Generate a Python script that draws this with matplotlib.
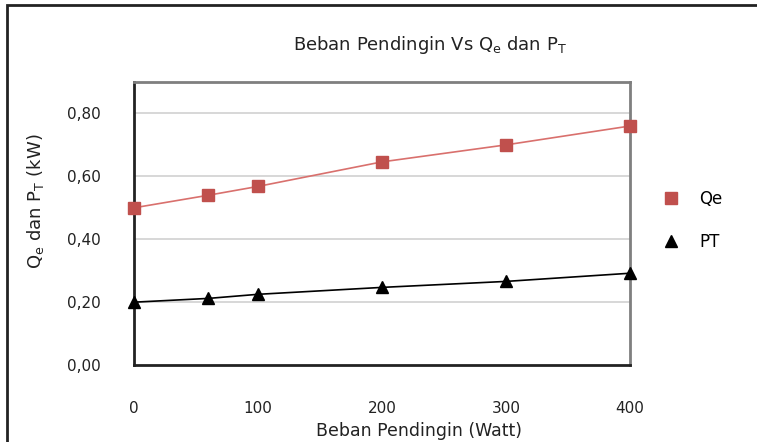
import matplotlib
matplotlib.use("Agg")
import matplotlib.pyplot as plt
from matplotlib.patches import Rectangle
from matplotlib.lines import Line2D

# data
beban = [0, 60, 100, 200, 300, 400]
qe = [0.50, 0.54, 0.568, 0.646, 0.70, 0.76]
pt = [0.200, 0.212, 0.225, 0.247, 0.266, 0.292]
yticks = [0.0, 0.2, 0.4, 0.6, 0.8]
xticks = [0, 100, 200, 300, 400]

plt.rcParams['font.family'] = ['DejaVu Sans']

fig = plt.figure(figsize=(7.57, 4.42), dpi=100)
ax = fig.add_axes([0.177, 0.174, 0.655, 0.6405])

# outer chart frame (open at right/bottom like the cropped original)
fig.patches.append(Rectangle((7 / 757, -0.1), 1.2, 1 - 5.5 / 442 + 0.1,
                             transform=fig.transFigure, fill=False,
                             edgecolor="#222222", lw=2))

for y in yticks[1:]:
    ax.axhline(y, color="#d4d4d4", lw=1.3, zorder=0)

ax.plot(beban, qe, color="#d9706d", lw=1.2, zorder=2)
ax.plot(beban, qe, ls="none", marker="s", ms=8.5, color="#c0504d", zorder=3, clip_on=False)
ax.plot(beban, pt, color="black", lw=1.2, zorder=2)
ax.plot(beban, pt, ls="none", marker="^", ms=8.5, color="black", zorder=3, clip_on=False)

ax.set_xlim(0, 400)
ax.set_ylim(0, 0.9)
ax.set_xticks(xticks)
ax.set_yticks(yticks)
ax.set_yticklabels([("%.2f" % v).replace(".", ",") for v in yticks])
ax.tick_params(axis="both", length=0, labelsize=11, colors="#222222")
ax.tick_params(axis="x", pad=26)
ax.tick_params(axis="y", pad=24)

ax.spines["left"].set_color("#222222")
ax.spines["bottom"].set_color("#222222")
ax.spines["left"].set_linewidth(2)
ax.spines["bottom"].set_linewidth(2)
ax.spines["top"].set_color("#7f7f7f")
ax.spines["right"].set_color("#7f7f7f")
ax.spines["top"].set_linewidth(2)
ax.spines["right"].set_linewidth(2)

fig.text(0.568, 0.898, "Beban Pendingin Vs Q$_\\mathregular{e}$ dan P$_\\mathregular{T}$",
         ha="center", va="center", fontsize=13, color="#222222")
fig.text(0.553, 0.026, "Beban Pendingin (Watt)", ha="center", va="center",
         fontsize=12.5, color="#222222")
fig.text(0.047, 0.545, "Q$_\\mathregular{e}$ dan P$_\\mathregular{T}$ (kW)", ha="center",
         va="center", rotation=90, fontsize=13, color="#222222")

handles = [Line2D([], [], ls="none", marker="s", ms=8.5, color="#c0504d"),
           Line2D([], [], ls="none", marker="^", ms=8.5, color="black")]
fig.legend(handles, ["Qe", "PT"], loc="center left", bbox_to_anchor=(0.855, 0.502),
           frameon=False, fontsize=12, handletextpad=1.2, labelspacing=1.5,
           handlelength=1.0)

plt.savefig("out.png", dpi=100)
